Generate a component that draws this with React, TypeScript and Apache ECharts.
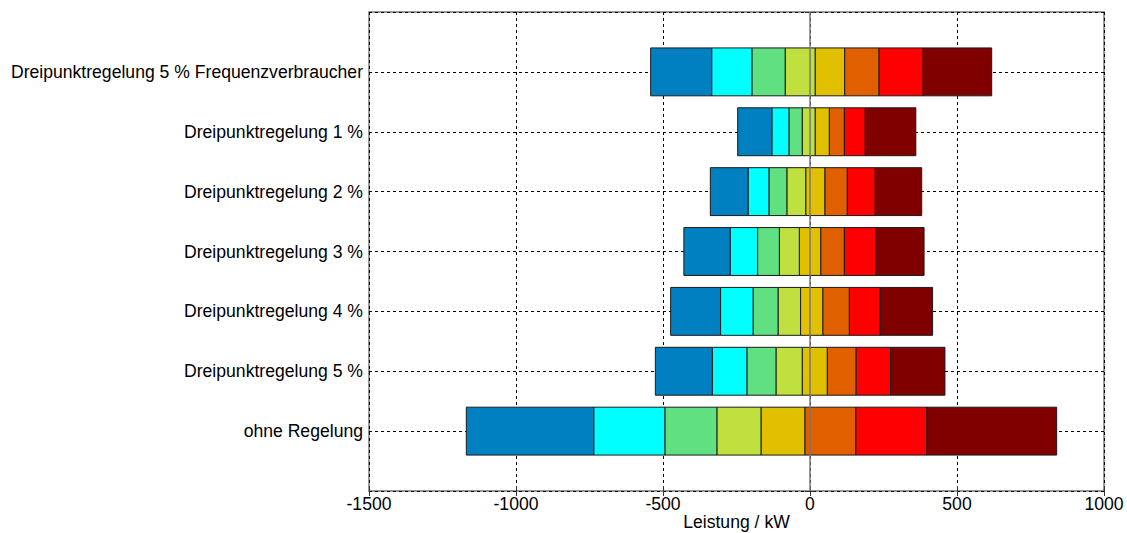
import React, { useEffect, useRef } from "react";
import * as echarts from "echarts";

// categories, bottom to top (y positions 1..7)
const categories = [
  "ohne Regelung",
  "Dreipunktregelung 5 %",
  "Dreipunktregelung 4 %",
  "Dreipunktregelung 3 %",
  "Dreipunktregelung 2 %",
  "Dreipunktregelung 1 %",
  "Dreipunktregelung 5 % Frequenzverbraucher",
];

// segment boundaries (kW) per category, left to right (9 edges -> 8 segments)
const ohneRegelung = [-1169, -735, -493, -316, -166, -17, 156, 398, 839];
const dreipunkt5 = [-526, -332, -214, -115, -26, 59, 157, 274, 459];
const dreipunkt4 = [-474, -304, -193, -108, -32, 44, 134, 239, 417];
const dreipunkt3 = [-429, -271, -178, -104, -36, 37, 117, 224, 388];
const dreipunkt2 = [-339, -210, -139, -78, -14, 51, 127, 222, 380];
const dreipunkt1 = [-246, -129, -71, -26, 18, 66, 117, 188, 360];
const dreipunkt5Freq = [-542, -334, -197, -84, 18, 118, 235, 385, 618];

const edgesByCategory = [
  ohneRegelung,
  dreipunkt5,
  dreipunkt4,
  dreipunkt3,
  dreipunkt2,
  dreipunkt1,
  dreipunkt5Freq,
];

const segmentColors = [
  "#0080C0",
  "#00FFFF",
  "#60E080",
  "#C0E040",
  "#E0C000",
  "#E06000",
  "#FF0000",
  "#800000",
];

const xTicks = [-1500, -1000, -500, 0, 500, 1000];

export default function App() {
  const ref = useRef<HTMLDivElement>(null);

  useEffect(() => {
    if (!ref.current) return;
    const chart = echarts.init(ref.current, null, { renderer: "svg" });

    const data: number[][] = [];
    edgesByCategory.forEach((edges, ci) => {
      for (let s = 0; s < edges.length - 1; s++) {
        data.push([edges[s], edges[s + 1], ci + 1, s]);
      }
    });

    const font = "Liberation Sans, Arial, sans-serif";
    const fs = 17.6;

    const option: any = {
      animation: false,
      backgroundColor: "#fff",
      grid: {
        left: 369,
        right: 23,
        top: 12,
        bottom: 42,
        containLabel: false,
        outerBoundsMode: "none",
        show: true,
        borderColor: "#777",
        borderWidth: 1.5,
        backgroundColor: "transparent",
      },
      xAxis: [
        {
          type: "value",
          min: xTicks[0],
          max: xTicks[xTicks.length - 1],
          interval: 500,
          position: "bottom",
          name: "Leistung / kW",
          nameLocation: "middle",
          nameGap: 21,
          nameMoveOverlap: false,
          nameTextStyle: {
            color: "#000",
            fontSize: fs,
            fontFamily: font,
            lineHeight: 20,
          },
          axisLine: { show: false },
          axisTick: { show: true, inside: true, length: 5, lineStyle: { color: "#333" } },
          axisLabel: {
            color: "#000",
            fontSize: fs,
            fontFamily: font,
            margin: 4,
            formatter: (v: number) => String(v),
          },
          splitLine: {
            show: true,
            lineStyle: { color: "#000", type: [3, 3], width: 1 },
          },
        },
        {
          type: "value",
          min: xTicks[0],
          max: xTicks[xTicks.length - 1],
          interval: 500,
          position: "top",
          axisLine: { show: false },
          axisTick: { show: true, inside: true, length: 5, lineStyle: { color: "#333" } },
          axisLabel: { show: false },
          splitLine: { show: false },
        },
      ],
      yAxis: [
        {
          type: "value",
          min: 0,
          max: 8,
          interval: 1,
          position: "left",
          axisLine: { show: false },
          axisTick: { show: true, inside: true, length: 5, lineStyle: { color: "#333" } },
          axisLabel: {
            color: "#000",
            fontSize: fs,
            fontFamily: font,
            margin: 6,
            formatter: (v: number) =>
              v >= 1 && v <= categories.length ? categories[v - 1] : "",
          },
          splitLine: {
            show: true,
            lineStyle: { color: "#000", type: [3, 3], width: 1 },
          },
        },
        {
          type: "value",
          min: 0,
          max: 8,
          interval: 1,
          position: "right",
          axisLine: { show: false },
          axisTick: { show: true, inside: true, length: 5, lineStyle: { color: "#333" } },
          axisLabel: { show: false },
          splitLine: { show: false },
        },
      ],
      series: [
        {
          type: "line",
          data: [],
          z: 1,
          markLine: {
            silent: true,
            symbol: "none",
            label: { show: false },
            lineStyle: { color: "#777", type: "solid", width: 1.5 },
            data: [{ xAxis: 0 }],
          },
        },
        {
          type: "custom",
          z: 3,
          encode: { x: [0, 1], y: 2 },
          data,
          renderItem: (params: any, api: any) => {
            const y = api.value(2);
            const p0 = api.coord([api.value(0), y]);
            const p1 = api.coord([api.value(1), y]);
            const h = api.size([0, 0.8])[1];
            const color = segmentColors[api.value(3)];
            return {
              type: "rect",
              shape: {
                x: p0[0],
                y: p0[1] - h / 2,
                width: p1[0] - p0[0],
                height: h,
              },
              style: {
                fill: color,
                stroke: "#1a1a1a",
                lineWidth: 1,
              },
            };
          },
        },
      ],
    };

    chart.setOption(option);
    return () => chart.dispose();
  }, []);

  return (
    <div
      ref={ref}
      style={{ position: "fixed", left: 0, top: 0, width: 1127, height: 533 }}
    />
  );
}
